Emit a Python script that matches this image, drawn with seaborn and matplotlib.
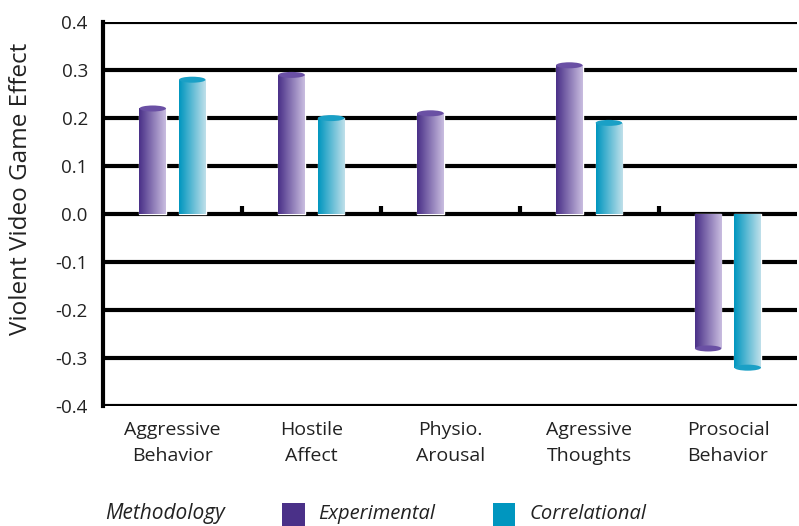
import numpy as np
import pandas as pd
import seaborn as sns
import matplotlib.pyplot as plt
from matplotlib.patches import Ellipse, Rectangle
from matplotlib.colors import LinearSegmentedColormap

categories = ["Aggressive\nBehavior", "Hostile\nAffect", "Physio.\nArousal",
              "Agressive\nThoughts", "Prosocial\nBehavior"]
experimental = [0.22, 0.29, 0.21, 0.31, -0.28]
correlational = [0.28, 0.20, np.nan, 0.19, -0.32]
yticks = [0.4, 0.3, 0.2, 0.1, 0.0, -0.1, -0.2, -0.3, -0.4]

df = pd.DataFrame({
    "category": categories * 2,
    "effect": experimental + correlational,
    "Methodology": ["Experimental"] * 5 + ["Correlational"] * 5,
})

purple = "#4a3088"
teal = "#0096bf"
grad = {
    "Experimental": (purple, "#c9bde0", "#6a50a4"),
    "Correlational": (teal, "#bfe0ea", "#1aa0c6"),
}

sns.set_style("white")
plt.rcParams["font.family"] = ["Open Sans", "DejaVu Sans"]

fig = plt.figure(figsize=(7.99, 5.26), dpi=100)
ax = fig.add_axes([0.129, 0.228, 0.869, 0.73])

sns.barplot(data=df, x="category", y="effect", hue="Methodology",
            order=categories, hue_order=["Experimental", "Correlational"],
            palette=[purple, teal], width=0.57, gap=0.33, ax=ax,
            legend=False, errorbar=None, zorder=3)

ax.set_ylim(-0.4, 0.4)
ax.set_xlim(-0.5, 4.5)
ax.set_yticks(yticks)
ax.set_yticklabels([f"{v:.1f}" for v in yticks], fontsize=13.5, color="#222222")
ax.tick_params(axis="y", length=0, pad=11)
ax.tick_params(axis="x", length=0, pad=11)
ax.set_xticks(range(len(categories)))
ax.set_xticklabels(categories, fontsize=14, linespacing=1.55, color="#222222")
ax.set_xlabel("")
ax.set_ylabel("Violent Video Game Effect", fontsize=17.5, color="#222222")
ax.yaxis.set_label_coords(-0.101, 0.565)

ax.yaxis.grid(True, color="black", linewidth=3, zorder=0)
ax.set_axisbelow(True)
for s in ["top", "right", "bottom"]:
    ax.spines[s].set_visible(False)
ax.spines["left"].set_linewidth(3)
ax.spines["left"].set_color("black")

# small separator ticks on the zero line
ax.vlines(np.arange(len(categories) - 1) + 0.5, 0, 0.017, color="black",
          linewidth=3, zorder=2)

# cylinder look: gradient fill + elliptical cap
hues = []
for meth, vals in [("Experimental", experimental), ("Correlational", correlational)]:
    hues += [meth for v in vals if not np.isnan(v)]

cap_h = 0.0125
for patch, meth in zip(list(ax.patches), hues):
    x0, y0 = patch.get_x(), patch.get_y()
    w, h = patch.get_width(), patch.get_height()
    if h == 0:
        continue
    dark, light, capc = grad[meth]
    cmap = LinearSegmentedColormap.from_list("g", [dark, light])
    img = cmap(np.linspace(0, 1, 64)).reshape(1, 64, 4)
    ybot, ytop = min(y0, y0 + h), max(y0, y0 + h)
    im = ax.imshow(img, extent=[x0, x0 + w, ybot, ytop], aspect="auto",
                   zorder=4, interpolation="bicubic")
    im.set_clip_path(patch)
    ax.add_patch(Ellipse((x0 + w / 2, y0 + h), w, cap_h, facecolor=capc,
                         edgecolor="none", zorder=5))

ax.set_xlim(-0.5, 4.5)
ax.set_ylim(-0.4, 0.4)

# legend row
ly = 1 - 514 / 526
fig.text(105 / 799, ly, "Methodology", fontsize=15, style="italic",
         va="center", ha="left", color="#222222")
fig.patches.append(Rectangle((282 / 799, 0), 23 / 799, 23 / 526,
                             transform=fig.transFigure, facecolor=purple,
                             edgecolor="none"))
fig.text(318 / 799, ly, "Experimental", fontsize=14.5, style="italic",
         va="center", ha="left", color="#222222")
fig.patches.append(Rectangle((493 / 799, 0), 22 / 799, 23 / 526,
                             transform=fig.transFigure, facecolor=teal,
                             edgecolor="none"))
fig.text(530 / 799, ly, "Correlational", fontsize=14.5, style="italic",
         va="center", ha="left", color="#222222")

fig.savefig("out.png", dpi=100)
